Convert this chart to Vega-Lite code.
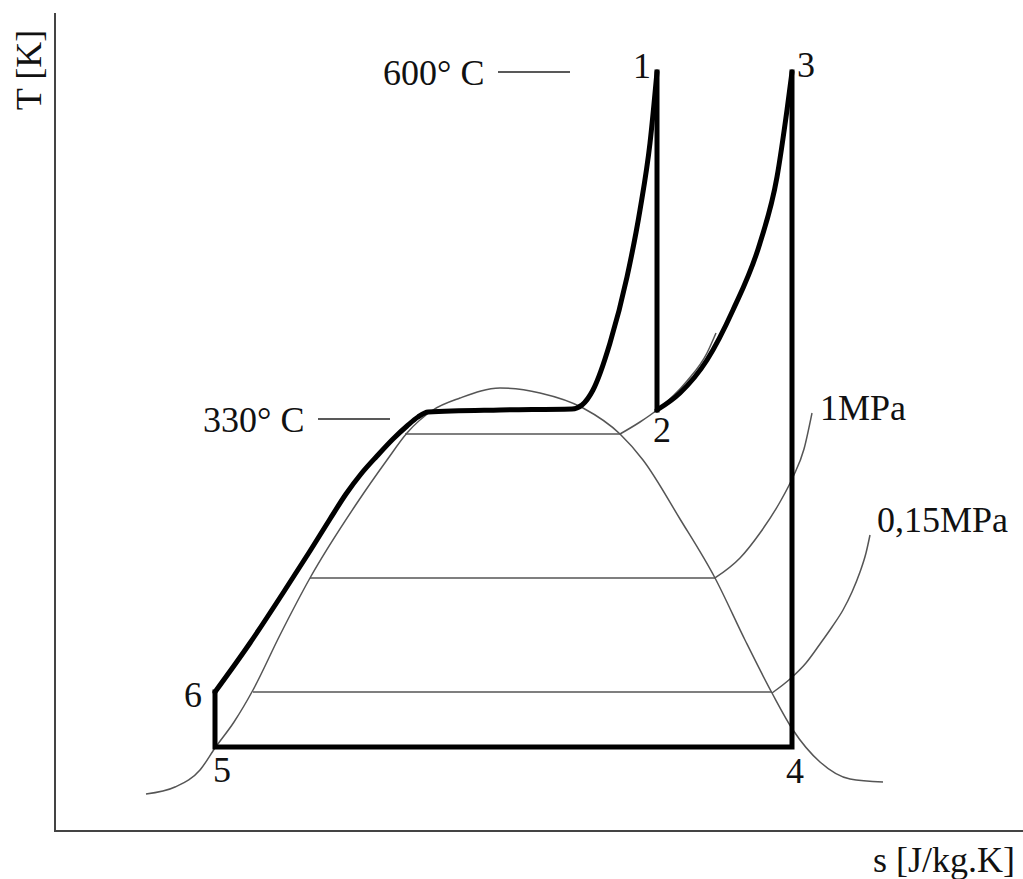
{
  "$schema": "https://vega.github.io/schema/vega-lite/v6.json",
  "width": 1023,
  "height": 879,
  "autosize": {"type": "none"},
  "padding": 0,
  "background": "white",
  "config": {"view": {"stroke": null}},
  "datasets": {
    "lines": [
      {"g": "axis", "id": "ax", "o": 1, "s": 55, "T": 13},
      {"g": "axis", "id": "ax", "o": 2, "s": 55, "T": 831},
      {"g": "axis", "id": "ax", "o": 3, "s": 1023, "T": 831},

      {"g": "conn", "id": "c600", "o": 1, "s": 498, "T": 72},
      {"g": "conn", "id": "c600", "o": 2, "s": 570, "T": 72},
      {"g": "conn", "id": "c330", "o": 1, "s": 318, "T": 419},
      {"g": "conn", "id": "c330", "o": 2, "s": 390, "T": 419},

      {"g": "thin", "id": "dome", "o": 1, "s": 146, "T": 794},
      {"g": "thin", "id": "dome", "o": 2, "s": 175, "T": 787},
      {"g": "thin", "id": "dome", "o": 3, "s": 200, "T": 770},
      {"g": "thin", "id": "dome", "o": 4, "s": 215, "T": 748},
      {"g": "thin", "id": "dome", "o": 5, "s": 234, "T": 722},
      {"g": "thin", "id": "dome", "o": 6, "s": 253, "T": 690},
      {"g": "thin", "id": "dome", "o": 7, "s": 280, "T": 635},
      {"g": "thin", "id": "dome", "o": 8, "s": 310, "T": 578},
      {"g": "thin", "id": "dome", "o": 9, "s": 357, "T": 503},
      {"g": "thin", "id": "dome", "o": 10, "s": 387, "T": 460},
      {"g": "thin", "id": "dome", "o": 11, "s": 407, "T": 433},
      {"g": "thin", "id": "dome", "o": 12, "s": 433, "T": 410},
      {"g": "thin", "id": "dome", "o": 13, "s": 460, "T": 398},
      {"g": "thin", "id": "dome", "o": 14, "s": 500, "T": 388},
      {"g": "thin", "id": "dome", "o": 15, "s": 540, "T": 393},
      {"g": "thin", "id": "dome", "o": 16, "s": 583, "T": 408},
      {"g": "thin", "id": "dome", "o": 17, "s": 620, "T": 434},
      {"g": "thin", "id": "dome", "o": 18, "s": 643, "T": 460},
      {"g": "thin", "id": "dome", "o": 19, "s": 680, "T": 519},
      {"g": "thin", "id": "dome", "o": 20, "s": 715, "T": 578},
      {"g": "thin", "id": "dome", "o": 21, "s": 745, "T": 640},
      {"g": "thin", "id": "dome", "o": 22, "s": 772, "T": 693},
      {"g": "thin", "id": "dome", "o": 23, "s": 793, "T": 730},
      {"g": "thin", "id": "dome", "o": 24, "s": 820, "T": 762},
      {"g": "thin", "id": "dome", "o": 25, "s": 850, "T": 779},
      {"g": "thin", "id": "dome", "o": 26, "s": 883, "T": 782},

      {"g": "thin", "id": "h1", "o": 1, "s": 405, "T": 434},
      {"g": "thin", "id": "h1", "o": 2, "s": 620, "T": 434},
      {"g": "thin", "id": "h2", "o": 1, "s": 310, "T": 578},
      {"g": "thin", "id": "h2", "o": 2, "s": 715, "T": 578},
      {"g": "thin", "id": "h3", "o": 1, "s": 253, "T": 692},
      {"g": "thin", "id": "h3", "o": 2, "s": 772, "T": 692},

      {"g": "thin", "id": "pHigh", "o": 1, "s": 620, "T": 434},
      {"g": "thin", "id": "pHigh", "o": 2, "s": 640, "T": 422},
      {"g": "thin", "id": "pHigh", "o": 3, "s": 657, "T": 410},
      {"g": "thin", "id": "pHigh", "o": 4, "s": 687, "T": 381},
      {"g": "thin", "id": "pHigh", "o": 5, "s": 707, "T": 353},
      {"g": "thin", "id": "pHigh", "o": 6, "s": 716, "T": 333},

      {"g": "thin", "id": "p1", "o": 1, "s": 715, "T": 578},
      {"g": "thin", "id": "p1", "o": 2, "s": 740, "T": 558},
      {"g": "thin", "id": "p1", "o": 3, "s": 760, "T": 533},
      {"g": "thin", "id": "p1", "o": 4, "s": 780, "T": 502},
      {"g": "thin", "id": "p1", "o": 5, "s": 793, "T": 477},
      {"g": "thin", "id": "p1", "o": 6, "s": 804, "T": 449},
      {"g": "thin", "id": "p1", "o": 7, "s": 812, "T": 413},

      {"g": "thin", "id": "p015", "o": 1, "s": 772, "T": 693},
      {"g": "thin", "id": "p015", "o": 2, "s": 790, "T": 679},
      {"g": "thin", "id": "p015", "o": 3, "s": 806, "T": 663},
      {"g": "thin", "id": "p015", "o": 4, "s": 820, "T": 644},
      {"g": "thin", "id": "p015", "o": 5, "s": 832, "T": 627},
      {"g": "thin", "id": "p015", "o": 6, "s": 843, "T": 610},
      {"g": "thin", "id": "p015", "o": 7, "s": 852, "T": 592},
      {"g": "thin", "id": "p015", "o": 8, "s": 860, "T": 572},
      {"g": "thin", "id": "p015", "o": 9, "s": 866, "T": 553},
      {"g": "thin", "id": "p015", "o": 10, "s": 870, "T": 535},

      {"g": "tc", "id": "c61", "o": 1, "s": 215, "T": 692},
      {"g": "tc", "id": "c61", "o": 2, "s": 250, "T": 643},
      {"g": "tc", "id": "c61", "o": 3, "s": 283, "T": 593},
      {"g": "tc", "id": "c61", "o": 4, "s": 310, "T": 551},
      {"g": "tc", "id": "c61", "o": 5, "s": 330, "T": 519},
      {"g": "tc", "id": "c61", "o": 6, "s": 346, "T": 494},
      {"g": "tc", "id": "c61", "o": 7, "s": 361, "T": 474},
      {"g": "tc", "id": "c61", "o": 8, "s": 377, "T": 456},
      {"g": "tc", "id": "c61", "o": 9, "s": 393, "T": 439},
      {"g": "tc", "id": "c61", "o": 10, "s": 407, "T": 426},
      {"g": "tc", "id": "c61", "o": 11, "s": 418, "T": 417},
      {"g": "tc", "id": "c61", "o": 12, "s": 428, "T": 412},
      {"g": "tc", "id": "c61", "o": 13, "s": 500, "T": 410},
      {"g": "tc", "id": "c61", "o": 14, "s": 572, "T": 409},
      {"g": "tc", "id": "c61", "o": 15, "s": 582, "T": 405},
      {"g": "tc", "id": "c61", "o": 16, "s": 593, "T": 390},
      {"g": "tc", "id": "c61", "o": 17, "s": 610, "T": 343},
      {"g": "tc", "id": "c61", "o": 18, "s": 627, "T": 277},
      {"g": "tc", "id": "c61", "o": 19, "s": 640, "T": 210},
      {"g": "tc", "id": "c61", "o": 20, "s": 650, "T": 143},
      {"g": "tc", "id": "c61", "o": 21, "s": 657, "T": 72},

      {"g": "tc", "id": "c23", "o": 1, "s": 657, "T": 410},
      {"g": "tc", "id": "c23", "o": 2, "s": 680, "T": 393},
      {"g": "tc", "id": "c23", "o": 3, "s": 707, "T": 360},
      {"g": "tc", "id": "c23", "o": 4, "s": 733, "T": 310},
      {"g": "tc", "id": "c23", "o": 5, "s": 760, "T": 243},
      {"g": "tc", "id": "c23", "o": 6, "s": 777, "T": 177},
      {"g": "tc", "id": "c23", "o": 7, "s": 787, "T": 110},
      {"g": "tc", "id": "c23", "o": 8, "s": 792, "T": 72},

      {"g": "ts", "id": "v12", "o": 1, "s": 657, "T": 72},
      {"g": "ts", "id": "v12", "o": 2, "s": 657, "T": 410},
      {"g": "ts", "id": "r3456", "o": 1, "s": 792, "T": 72},
      {"g": "ts", "id": "r3456", "o": 2, "s": 792, "T": 747},
      {"g": "ts", "id": "r3456", "o": 3, "s": 215, "T": 747},
      {"g": "ts", "id": "r3456", "o": 4, "s": 215, "T": 692}
    ],
    "labelsLeft": [
      {"s": 383, "T": 85, "text": "600° C"},
      {"s": 203, "T": 432, "text": "330° C"},
      {"s": 820, "T": 420, "text": "1MPa"},
      {"s": 877, "T": 532, "text": "0,15MPa"},
      {"s": 873, "T": 872, "text": "s [J/kg.K]"}
    ],
    "labelsCenter": [
      {"s": 642, "T": 78, "text": "1"},
      {"s": 806, "T": 77, "text": "3"},
      {"s": 662, "T": 442, "text": "2"},
      {"s": 193, "T": 707, "text": "6"},
      {"s": 222, "T": 782, "text": "5"},
      {"s": 795, "T": 783, "text": "4"}
    ],
    "labelsRot": [
      {"s": 41, "T": 70, "text": "T [K]"}
    ]
  },
  "encoding": {
    "x": {"field": "s", "type": "quantitative", "scale": {"domain": [0, 1023], "nice": false, "zero": false}, "axis": null},
    "y": {"field": "T", "type": "quantitative", "scale": {"domain": [0, 879], "nice": false, "zero": false, "reverse": true}, "axis": null}
  },
  "layer": [
    {
      "data": {"name": "lines"},
      "transform": [{"filter": "datum.g == 'axis'"}],
      "mark": {"type": "line", "stroke": "#444444", "strokeWidth": 2, "interpolate": "linear", "strokeJoin": "miter"},
      "encoding": {"detail": {"field": "id"}, "order": {"field": "o", "type": "quantitative"}}
    },
    {
      "data": {"name": "lines"},
      "transform": [{"filter": "datum.g == 'conn'"}],
      "mark": {"type": "line", "stroke": "#222222", "strokeWidth": 1.5, "interpolate": "linear"},
      "encoding": {"detail": {"field": "id"}, "order": {"field": "o", "type": "quantitative"}}
    },
    {
      "data": {"name": "lines"},
      "transform": [{"filter": "datum.g == 'thin'"}],
      "mark": {"type": "line", "stroke": "#555555", "strokeWidth": 1.5, "interpolate": "monotone"},
      "encoding": {"detail": {"field": "id"}, "order": {"field": "o", "type": "quantitative"}}
    },
    {
      "data": {"name": "lines"},
      "transform": [{"filter": "datum.g == 'tc'"}],
      "mark": {"type": "line", "stroke": "#000000", "strokeWidth": 5, "interpolate": "monotone", "strokeCap": "round"},
      "encoding": {"detail": {"field": "id"}, "order": {"field": "o", "type": "quantitative"}}
    },
    {
      "data": {"name": "lines"},
      "transform": [{"filter": "datum.g == 'ts'"}],
      "mark": {"type": "line", "stroke": "#000000", "strokeWidth": 5, "interpolate": "linear", "strokeJoin": "miter", "strokeCap": "square"},
      "encoding": {"detail": {"field": "id"}, "order": {"field": "o", "type": "quantitative"}}
    },
    {
      "data": {"name": "labelsLeft"},
      "mark": {"type": "text", "font": "Liberation Serif", "fontSize": 36, "align": "left", "baseline": "alphabetic", "color": "#111111"},
      "encoding": {"text": {"field": "text"}}
    },
    {
      "data": {"name": "labelsCenter"},
      "mark": {"type": "text", "font": "Liberation Serif", "fontSize": 36, "align": "center", "baseline": "alphabetic", "color": "#111111"},
      "encoding": {"text": {"field": "text"}}
    },
    {
      "data": {"name": "labelsRot"},
      "mark": {"type": "text", "font": "Liberation Serif", "fontSize": 36, "align": "center", "baseline": "alphabetic", "angle": 270, "color": "#111111"},
      "encoding": {"text": {"field": "text"}}
    }
  ]
}
